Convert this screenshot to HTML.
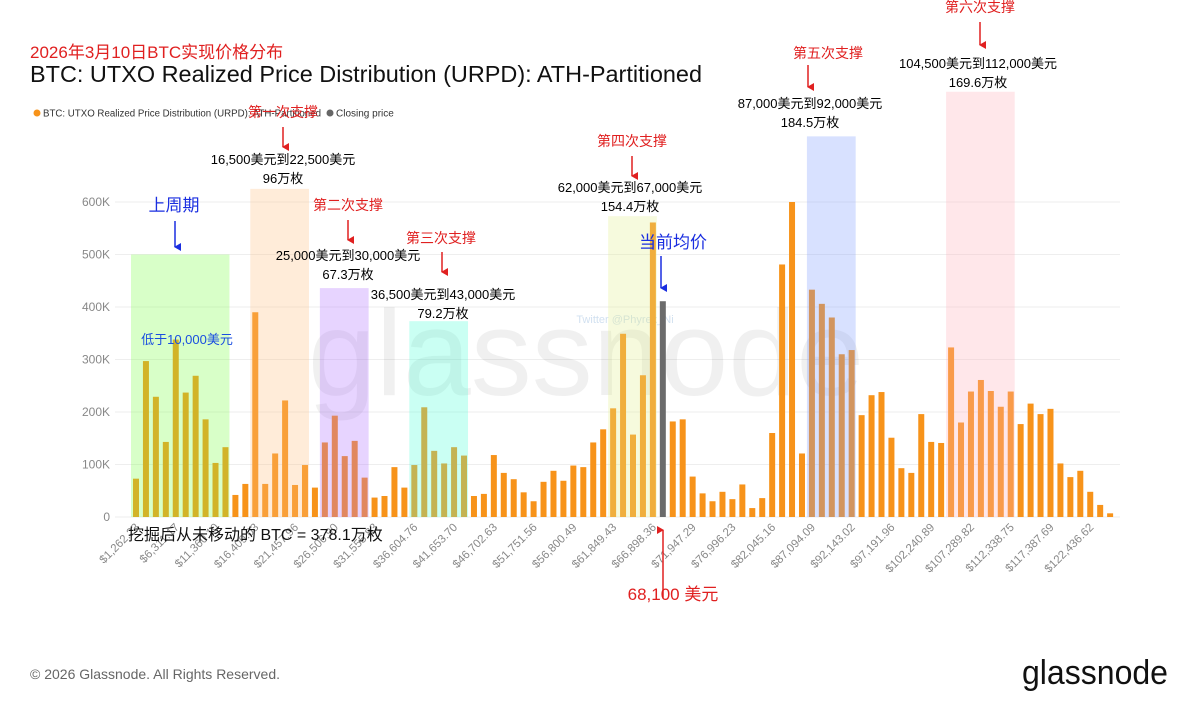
<!DOCTYPE html>
<html><head><meta charset="utf-8"><style>
body{margin:0;background:#fff;}
svg text{font-family:"Liberation Sans","Noto Sans CJK SC",sans-serif;}
</style></head><body>
<svg id="chart" width="1200" height="709" viewBox="0 0 1200 709" xmlns="http://www.w3.org/2000/svg">
<defs><marker id="ar" markerWidth="8" markerHeight="8" refX="4" refY="6" orient="auto" markerUnits="userSpaceOnUse"><path d="M0,0 L4,7 L8,0 Z" fill="#e02020"/></marker>
<marker id="ab" markerWidth="8" markerHeight="8" refX="4" refY="6" orient="auto" markerUnits="userSpaceOnUse"><path d="M0,0 L4,7 L8,0 Z" fill="#1a2ee0"/></marker></defs>
<text x="30" y="58" font-size="17" fill="#e02020">2026年3月10日BTC实现价格分布</text>
<text x="30" y="82" font-size="23.2" fill="#111" textLength="672" lengthAdjust="spacingAndGlyphs">BTC: UTXO Realized Price Distribution (URPD): ATH-Partitioned</text>
<g>
<circle cx="37" cy="113" r="3.5" fill="#f7931a"/>
<text x="43" y="116.5" font-size="10" fill="#333" textLength="278" lengthAdjust="spacingAndGlyphs">BTC: UTXO Realized Price Distribution (URPD): ATH-Partitioned</text>
<circle cx="330" cy="113" r="3.5" fill="#666"/>
<text x="336" y="116.5" font-size="10" fill="#333">Closing price</text>
</g>
<g id="grid"></g><g id="yaxis"></g>
<text x="586" y="395" font-size="122" fill="#000" fill-opacity="0.06" text-anchor="middle">glassnode</text>
<text x="625" y="323" font-size="11" fill="#9bd" fill-opacity="0.45" text-anchor="middle">Twitter @Phyrex_Ni</text>
<g id="bars"></g><g id="regions"></g><g id="xaxis"></g>
<g id="annotations" font-size="13">
<text x="283" y="117" fill="#e02020" text-anchor="middle" font-size="14">第一次支撑</text>
<line x1="283" y1="127" x2="283" y2="147" stroke="#e02020" stroke-width="1.5" marker-end="url(#ar)"/>
<text x="283" y="164" text-anchor="middle">16,500美元到22,500美元</text>
<text x="283" y="183" text-anchor="middle">96万枚</text>
<text x="174" y="211" fill="#1a2ee0" text-anchor="middle" font-size="17">上周期</text>
<line x1="175" y1="221" x2="175" y2="247" stroke="#1a2ee0" stroke-width="1.5" marker-end="url(#ab)"/>
<text x="187" y="344" fill="#1a4ee0" text-anchor="middle">低于10,000美元</text>
<text x="348" y="210" fill="#e02020" text-anchor="middle" font-size="14">第二次支撑</text>
<line x1="348" y1="220" x2="348" y2="240" stroke="#e02020" stroke-width="1.5" marker-end="url(#ar)"/>
<text x="348" y="260" text-anchor="middle">25,000美元到30,000美元</text>
<text x="348" y="279" text-anchor="middle">67.3万枚</text>
<text x="441" y="243" fill="#e02020" text-anchor="middle" font-size="14">第三次支撑</text>
<line x1="442" y1="252" x2="442" y2="272" stroke="#e02020" stroke-width="1.5" marker-end="url(#ar)"/>
<text x="443" y="299" text-anchor="middle">36,500美元到43,000美元</text>
<text x="443" y="318" text-anchor="middle">79.2万枚</text>
<text x="632" y="146" fill="#e02020" text-anchor="middle" font-size="14">第四次支撑</text>
<line x1="632" y1="156" x2="632" y2="176" stroke="#e02020" stroke-width="1.5" marker-end="url(#ar)"/>
<text x="630" y="192" text-anchor="middle">62,000美元到67,000美元</text>
<text x="630" y="211" text-anchor="middle">154.4万枚</text>
<text x="673" y="248" fill="#1a2ee0" text-anchor="middle" font-size="17">当前均价</text>
<line x1="661" y1="256" x2="661" y2="288" stroke="#1a2ee0" stroke-width="1.5" marker-end="url(#ab)"/>
<text x="828" y="58" fill="#e02020" text-anchor="middle" font-size="14">第五次支撑</text>
<line x1="808" y1="65" x2="808" y2="87" stroke="#e02020" stroke-width="1.5" marker-end="url(#ar)"/>
<text x="810" y="108" text-anchor="middle">87,000美元到92,000美元</text>
<text x="810" y="127" text-anchor="middle">184.5万枚</text>
<text x="980" y="12" fill="#e02020" text-anchor="middle" font-size="14">第六次支撑</text>
<line x1="980" y1="22" x2="980" y2="45" stroke="#e02020" stroke-width="1.5" marker-end="url(#ar)"/>
<text x="978" y="68" text-anchor="middle">104,500美元到112,000美元</text>
<text x="978" y="87" text-anchor="middle">169.6万枚</text>
<text x="128" y="540" font-size="16" fill="#111">挖掘后从未移动的 BTC = 378.1万枚</text>
<line x1="663" y1="598" x2="663" y2="530" stroke="#e02020" stroke-width="1.5" marker-end="url(#ar)"/>
<text x="673" y="600" fill="#e02020" text-anchor="middle" font-size="17">68,100 美元</text>
</g>
<text x="30" y="679" font-size="14" fill="#666">© 2026 Glassnode. All Rights Reserved.</text>
<text x="1168" y="684" font-size="34" fill="#111" text-anchor="end" textLength="146" lengthAdjust="spacingAndGlyphs">glassnode</text>
</svg>
<script>
const values=[73,297,229,143,338,237,269,186,103,133,42,63,390,63,121,222,61,99,56,142,193,116,145,75,37,40,95,56,99,209,126,102,133,117,40,44,118,84,72,47,30,67,88,69,98,95,142,167,207,349,157,270,561,411,182,186,77,45,30,48,34,62,17,36,160,481,600,121,433,406,380,310,318,194,232,238,151,93,84,196,143,141,323,180,239,261,240,210,239,177,216,196,206,102,76,88,48,23,7];
const closingIndex=[53];
const binWidth=[1262.2332];
const yTicks=[0,100,200,300,400,500,600];
const yTickLabels=["0","100K","200K","300K","400K","500K","600K"];
const regionStart=[0,12,19,28,48,68,82];
const regionEnd=[9,17,23,33,52,72,88];
const regionTop=[500,625,436,373,573,725,810];
const regionColor=["#7dff4a","#ffc080","#b070ff","#50ffd8","#e0ee90","#7f9bff","#ffb0b8"];
const regionName=["last-cycle-region","support-1-region","support-2-region","support-3-region","support-4-region","support-5-region","support-6-region"];
const NS="http://www.w3.org/2000/svg";
const X=i=>136+i*9.94, Y=v=>517-v*0.525;
function mk(t,a,p){const e=document.createElementNS(NS,t);for(const k in a)e.setAttribute(k,a[k]);p.appendChild(e);return e;}
const g=document.getElementById('grid'),ya=document.getElementById('yaxis'),b=document.getElementById('bars'),rg=document.getElementById('regions'),xa=document.getElementById('xaxis');
yTicks.forEach((t,i)=>{
 const l=mk('line',{x1:115,x2:1120,y1:Y(t),y2:Y(t),stroke:'#eee','stroke-width':1},g);
 
 
 const tx=mk('text',{x:110,y:Y(t)+4,'font-size':12,fill:'#888','text-anchor':'end'},ya);
 tx.textContent=yTickLabels[i];
 
 
});
values.forEach((v,i)=>{
 const isC=closingIndex.includes(i);
 const r=mk('rect',{x:X(i)-3,y:Y(v),width:6,height:v*0.525,fill:isC?'#6b6b6b':'#f7931a'},b);
 
 
});
regionStart.forEach((s,k)=>{
 const x0=X(s)-5,x1=X(regionEnd[k])+4;
 const r=mk('rect',{x:x0,y:Y(regionTop[k]),width:x1-x0,height:517-Y(regionTop[k]),fill:regionColor[k],'fill-opacity':0.3},rg);
 
 
});
for(let i=0;i<values.length;i+=4){
 const val=binWidth[0]*(i+1);
 const t=mk('text',{x:0,y:0,'font-size':11.5,fill:'#888','text-anchor':'end',transform:`translate(${X(i)+4},${528}) rotate(-45)`},xa);
 t.textContent='$'+val.toLocaleString('en-US',{minimumFractionDigits:2,maximumFractionDigits:2});
 
 
}
</script>
</body></html>
